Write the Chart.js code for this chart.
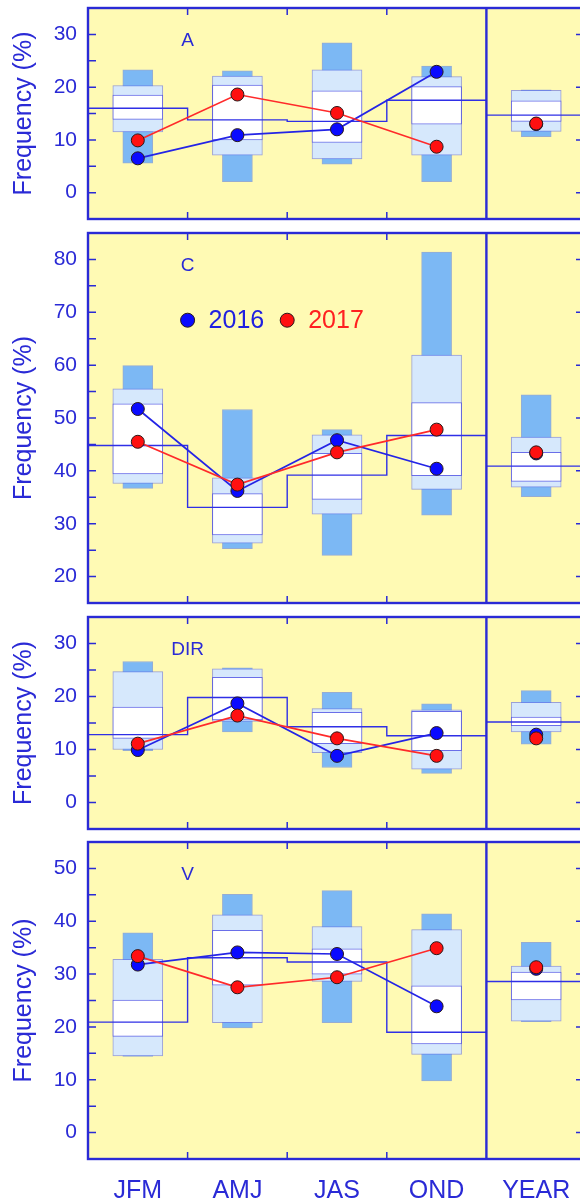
<!DOCTYPE html>
<html><head><meta charset="utf-8">
<script src="https://cdn.jsdelivr.net/npm/chart.js@4.4.1/dist/chart.umd.min.js"></script>
<style>
html,body{margin:0;padding:0;background:#fff;overflow:hidden;width:580px;height:1204px;}
canvas.p{position:absolute;left:0;}
</style></head><body>
<canvas id="cA" class="p"></canvas>
<canvas id="cC" class="p"></canvas>
<canvas id="cD" class="p"></canvas>
<canvas id="cV" class="p"></canvas>
<script>
// ---------- categories / labels ----------
const seasons = ['JFM', 'AMJ', 'JAS', 'OND', 'YEAR'];
const panelNames = ['A', 'C', 'DIR', 'V'];
const seriesLabels = ['2016', '2017'];
const yTitle = 'Frequency (%)';
const panelYMin = [-5, 15, -5, -5];
const panelYMax = [35, 85, 35, 55];

// ---------- panel A ----------
const aMax  = [23.3, 23.1, 28.4, 24.0, 19.5];
const aP90  = [20.3, 22.1, 23.3, 22.0, 19.4];
const aQ3   = [18.5, 20.4, 19.3, 20.1, 17.4];
const aQ1   = [13.9, 10.0, 9.5, 13.0, 13.5];
const aP10  = [11.5, 7.1, 6.4, 7.1, 11.6];
const aMin  = [5.6, 2.1, 5.4, 2.1, 10.6];
const aMean = [16.0, 13.8, 13.5, 17.5];
const aYearMean = 14.7;
const a2016 = [6.5, 10.9, 12.0, 22.9, 13.0];
const a2017 = [9.9, 18.6, 15.1, 8.7, 13.1];

// ---------- panel C ----------
const cMax  = [59.9, 51.6, 47.8, 81.4, 54.4];
const cP90  = [55.5, 38.7, 46.8, 61.9, 46.4];
const cQ3   = [52.7, 35.7, 43.3, 52.9, 43.5];
const cQ1   = [39.4, 27.9, 34.6, 39.1, 38.0];
const cP10  = [37.6, 26.3, 31.8, 36.5, 36.9];
const cMin  = [36.7, 25.3, 24.0, 31.6, 35.1];
const cMean = [44.8, 33.1, 39.2, 46.7];
const cYearMean = 40.9;
const c2016 = [51.7, 36.2, 45.8, 40.4, 43.3];
const c2017 = [45.5, 37.4, 43.5, 47.8, 43.5];

// ---------- panel DIR ----------
const dMax  = [26.6, 25.4, 20.8, 18.6, 21.1];
const dP90  = [24.7, 25.2, 17.7, 17.5, 18.9];
const dQ3   = [18.0, 23.6, 17.0, 17.2, 16.1];
const dQ1   = [12.1, 15.6, 11.1, 9.8, 14.5];
const dP10  = [10.0, 15.3, 9.4, 6.3, 13.3];
const dMin  = [9.8, 13.3, 6.6, 5.5, 11.0];
const dMean = [12.8, 19.8, 14.3, 12.6];
const dYearMean = 15.2;
const d2016 = [9.9, 18.7, 8.8, 13.1, 12.8];
const d2017 = [11.1, 16.4, 12.1, 8.8, 12.1];

// ---------- panel V ----------
const vMax  = [37.8, 45.1, 45.8, 41.4, 36.0];
const vP90  = [32.8, 41.2, 39.0, 38.4, 31.5];
const vQ3   = [25.1, 38.3, 34.8, 27.8, 30.4];
const vQ1   = [18.2, 27.9, 30.0, 16.8, 25.1];
const vP10  = [14.5, 20.8, 28.6, 14.8, 21.1];
const vMin  = [14.4, 19.8, 20.8, 9.8, 21.0];
const vMean = [20.9, 33.1, 32.3, 19.0];
const vYearMean = 28.6;
const v2016 = [31.8, 34.1, 33.8, 23.9, 31.0];
const v2017 = [33.4, 27.5, 29.4, 34.9, 31.3];

// ---------- styling / layout ----------
const FONT = "'Liberation Sans', Arial, Helvetica, sans-serif";
const BLUE = '#2a2ad6';
const STEP = '#2f2fe6';
const YELLOW = '#fffab4';
const panelTop = [8, 233, 617, 842];
const panelHeight = [211, 370, 212, 317];
Chart.defaults.font.family = FONT;
Chart.defaults.color = BLUE;

function boxData(lo, hi) { return lo.map((v, i) => ({ x: i + 0.5, y: [v, hi[i]] })); }
function seasonPts(arr) { return arr.slice(0, 4).map((v, i) => ({ x: i + 0.5, y: v })); }
function yearPt(arr) { return [{ x: 4.5, y: arr[4] }]; }
function stepPts(mean) { return mean.map((m, i) => ({ x: i, y: m })).concat([{ x: 4, y: mean[3] }]); }

const framePlugin = {
  id: 'frame',
  beforeDraw(chart) {
    const a = chart.chartArea, ctx = chart.ctx;
    ctx.save(); ctx.fillStyle = YELLOW;
    ctx.fillRect(a.left, a.top, a.right - a.left, a.bottom - a.top);
    ctx.restore();
  },
  afterDraw(chart, args, opts) {
    const { ctx, chartArea: a, scales: { x, y } } = chart;
    ctx.save();
    ctx.strokeStyle = BLUE;
    ctx.lineWidth = 1.5;
    ctx.beginPath();
    for (let v = Math.ceil(y.min / 5) * 5; v <= y.max; v += 5) {
      const py = y.getPixelForValue(v);
      ctx.moveTo(a.left, py); ctx.lineTo(a.left + 8, py);
      if (v % 10 === 0) { ctx.moveTo(a.right, py); ctx.lineTo(a.right - 10, py); }
    }
    [1, 2, 3].forEach(b => {
      const px = x.getPixelForValue(b);
      ctx.moveTo(px, a.top); ctx.lineTo(px, a.top + 7);
      ctx.moveTo(px, a.bottom); ctx.lineTo(px, a.bottom - 7);
    });
    ctx.stroke();
    ctx.lineWidth = 2.4;
    ctx.strokeRect(a.left, a.top, a.right - a.left, a.bottom - a.top);
    const dx = x.getPixelForValue(4);
    ctx.beginPath(); ctx.moveTo(dx, a.top); ctx.lineTo(dx, a.bottom); ctx.stroke();
    ctx.fillStyle = BLUE;
    ctx.font = '19px ' + FONT;
    ctx.textAlign = 'center'; ctx.textBaseline = 'middle';
    ctx.fillText(opts.name, x.getPixelForValue(1), a.top + 33);
    if (opts.legend) {
      const ly = y.getPixelForValue(68.5);
      const items = [
        { x: 1, fill: '#0a0aff', text: seriesLabels[0], col: '#2020e0' },
        { x: 2, fill: '#ff1010', text: seriesLabels[1], col: '#ff2020' }
      ];
      items.forEach(it => {
        const px = x.getPixelForValue(it.x);
        ctx.beginPath(); ctx.arc(px, ly, 7, 0, Math.PI * 2);
        ctx.fillStyle = it.fill; ctx.fill();
        ctx.lineWidth = 1; ctx.strokeStyle = '#2a1a1a'; ctx.stroke();
        ctx.fillStyle = it.col; ctx.font = '25px ' + FONT;
        ctx.textAlign = 'left'; ctx.textBaseline = 'middle';
        ctx.fillText(it.text, px + 21, ly + 1);
      });
    }
    ctx.restore();
  }
};

function makeChart(id, idx, d, showX) {
  const el = document.getElementById(id);
  const padT = 24, padB = 24, xH = 45;
  const h = padT + panelHeight[idx] + (showX ? xH : padB);
  el.width = 588; el.height = h;
  el.style.width = '588px'; el.style.height = h + 'px';
  el.style.top = (panelTop[idx] - padT) + 'px';
  const dot = (fill, line, order, data, showLine) => ({
    type: 'line', data, showLine, borderColor: line, borderWidth: 1.7,
    pointRadius: 6.5, pointHoverRadius: 6.5, pointBackgroundColor: fill,
    pointBorderColor: '#2a1a1a', pointBorderWidth: 1, order
  });
  new Chart(el, {
    type: 'bar',
    data: {
      datasets: [
        Object.assign({ label: seriesLabels[1] }, dot('#ff1010', '#ff2a2a', 1, seasonPts(d.s2017), true)),
        Object.assign({ label: seriesLabels[1] + ' ' + seasons[4] }, dot('#ff1010', '#ff2a2a', 1, yearPt(d.s2017), false)),
        Object.assign({ label: seriesLabels[0] }, dot('#0a0aff', '#2424e6', 2, seasonPts(d.s2016), true)),
        Object.assign({ label: seriesLabels[0] + ' ' + seasons[4] }, dot('#0a0aff', '#2424e6', 2, yearPt(d.s2016), false)),
        { type: 'line', label: 'mean', data: stepPts(d.mean), stepped: true, borderColor: STEP,
          borderWidth: 1.4, pointRadius: 0, order: 4 },
        { type: 'line', label: 'mean year', data: [{ x: 4, y: d.yearMean }, { x: 5, y: d.yearMean }],
          borderColor: STEP, borderWidth: 1.4, pointRadius: 0, order: 4 },
        { type: 'bar', label: 'q', data: boxData(d.q1, d.q3), backgroundColor: '#ffffff',
          borderColor: 'rgba(70,70,225,0.75)', borderWidth: 1, borderSkipped: false,
          barThickness: 50, grouped: false, order: 5 },
        { type: 'bar', label: 'p', data: boxData(d.p10, d.p90), backgroundColor: '#d6e8fc',
          borderColor: 'rgba(100,110,230,0.65)', borderWidth: 1, borderSkipped: false,
          barThickness: 50, grouped: false, order: 6 },
        { type: 'bar', label: 'r', data: boxData(d.min, d.max), backgroundColor: '#7cb8f4',
          borderColor: 'rgba(80,120,230,0.6)', borderWidth: 1, borderSkipped: false,
          barThickness: 30, grouped: false, order: 7 }
      ]
    },
    options: {
      responsive: false, animation: false, devicePixelRatio: 1,
      layout: { autoPadding: false, padding: { top: padT, bottom: showX ? 0 : padB, left: 0, right: 2 } },
      plugins: { legend: { display: false }, tooltip: { enabled: false },
        frame: { name: panelNames[idx], legend: idx === 1 } },
      scales: {
        x: {
          type: 'linear', min: 0, max: 5, offset: false, display: showX,
          grid: { display: false, drawTicks: false }, border: { display: false },
          afterBuildTicks: ax => { ax.ticks = seasons.map((s, i) => ({ value: i + 0.5 })); },
          afterFit: ax => { if (showX) ax.height = xH; },
          ticks: { callback: (v, i) => seasons[i], autoSkip: false, maxRotation: 0, minRotation: 0,
            padding: 17, font: { size: 25 }, color: BLUE }
        },
        y: {
          min: panelYMin[idx], max: panelYMax[idx],
          grid: { display: false, drawTicks: false }, border: { display: false },
          afterFit: ax => { ax.width = 88; },
          ticks: { stepSize: 5, autoSkip: false, callback: v => (v % 10 === 0 ? v : ''),
            padding: 11, font: { size: 21 }, color: BLUE },
          title: { display: true, text: yTitle, font: { size: 25, lineHeight: 1 },
            padding: { top: 12, bottom: 0 }, color: BLUE }
        }
      }
    },
    plugins: [framePlugin]
  });
}

makeChart('cA', 0, { max: aMax, p90: aP90, q3: aQ3, q1: aQ1, p10: aP10, min: aMin, mean: aMean, yearMean: aYearMean, s2016: a2016, s2017: a2017 }, false);
makeChart('cC', 1, { max: cMax, p90: cP90, q3: cQ3, q1: cQ1, p10: cP10, min: cMin, mean: cMean, yearMean: cYearMean, s2016: c2016, s2017: c2017 }, false);
makeChart('cD', 2, { max: dMax, p90: dP90, q3: dQ3, q1: dQ1, p10: dP10, min: dMin, mean: dMean, yearMean: dYearMean, s2016: d2016, s2017: d2017 }, false);
makeChart('cV', 3, { max: vMax, p90: vP90, q3: vQ3, q1: vQ1, p10: vP10, min: vMin, mean: vMean, yearMean: vYearMean, s2016: v2016, s2017: v2017 }, true);
</script>
</body></html>
